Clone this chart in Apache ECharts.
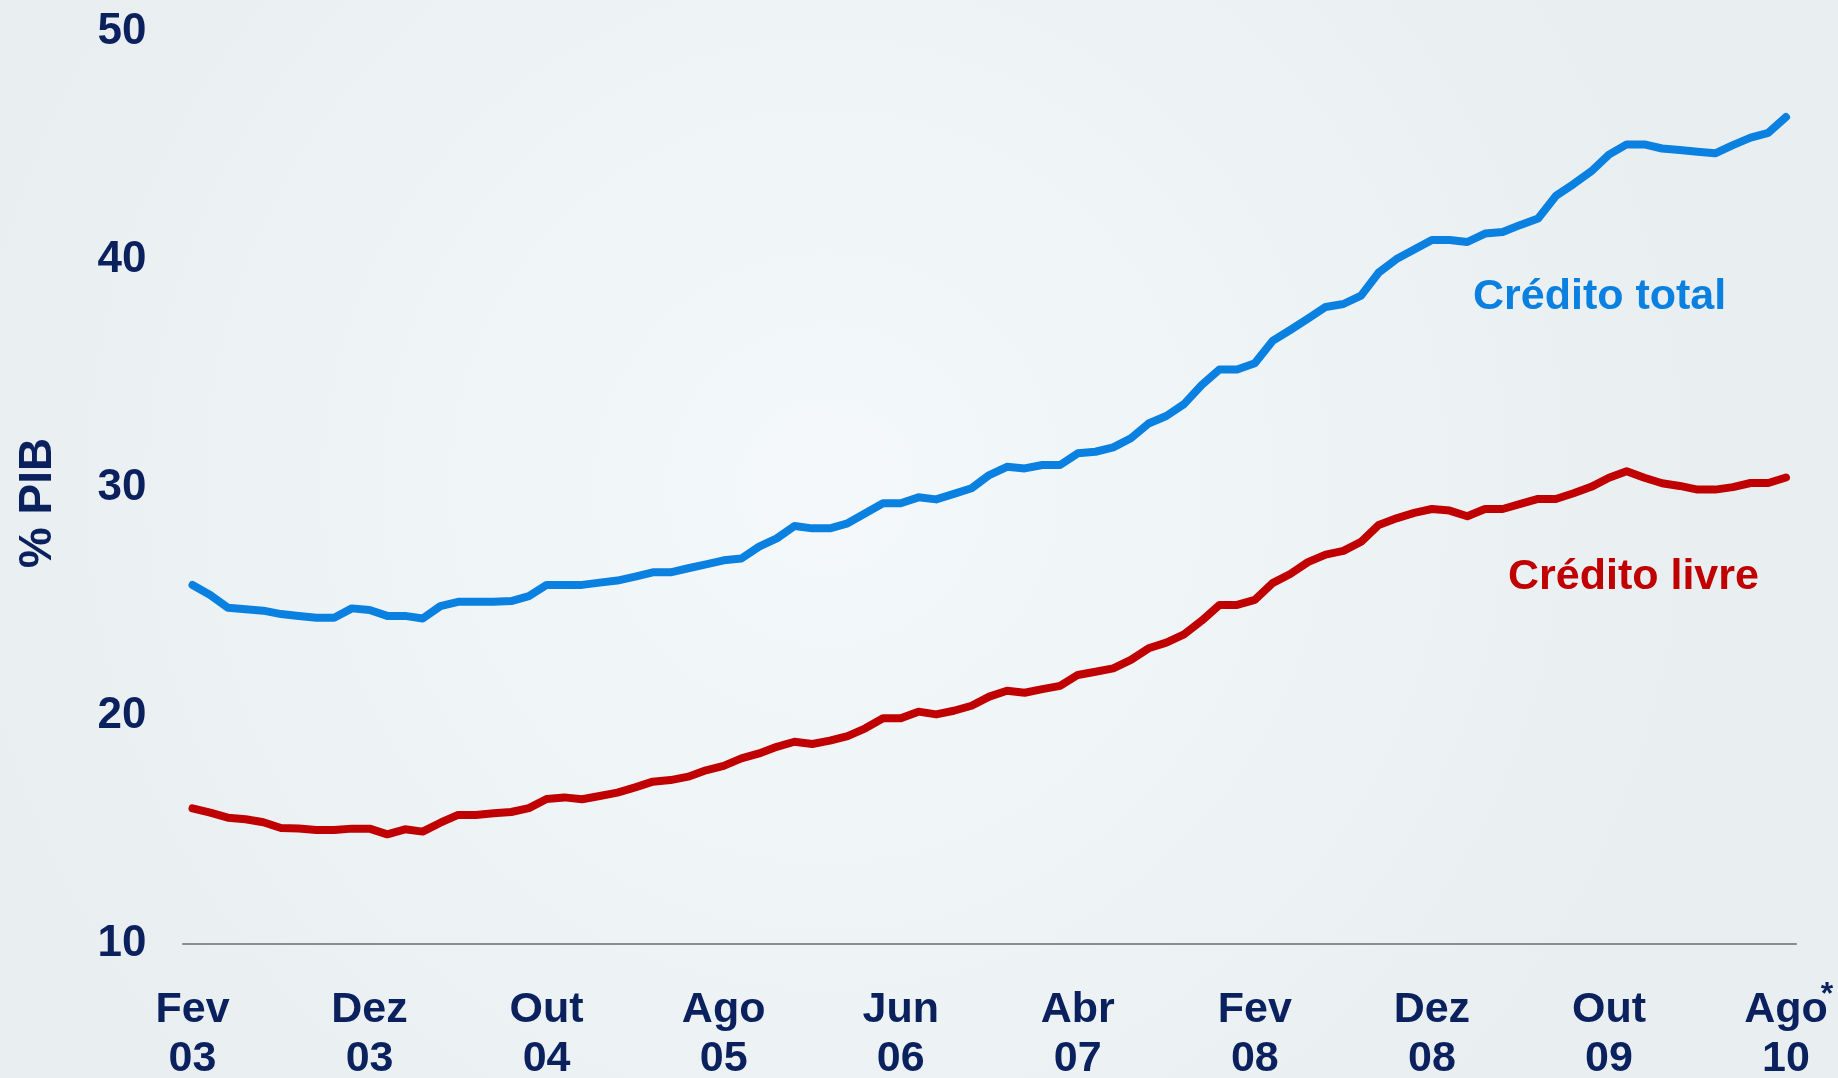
<!DOCTYPE html>
<html>
<head>
<meta charset="utf-8">
<title>Crédito total e livre (% PIB)</title>
<script src="https://cdn.jsdelivr.net/npm/echarts@6/dist/echarts.min.js"></script>
<style>
  html, body { margin: 0; padding: 0; background: #f0f4f6; }
  #chart { width: 1838px; height: 1078px; }
</style>
</head>
<body>
<div id="chart"></div>
<script>
// meses de Fev/03 a Ago/10 (91 pontos mensais)
const monthNames = ["Jan", "Fev", "Mar", "Abr", "Mai", "Jun", "Jul", "Ago", "Set", "Out", "Nov", "Dez"];
const months = [];
for (let i = 0; i < 91; i++) {
  const m = (1 + i) % 12;
  const y = 3 + Math.floor((1 + i) / 12);
  months.push(monthNames[m] + "\n" + String(y).padStart(2, "0"));
}

const yTicks = [10, 20, 30, 40, 50];

// Crédito total (% PIB)
const creditoTotal = [
  25.75, 25.31, 24.75, 24.68, 24.62, 24.47, 24.39, 24.31, 24.31, 24.72,
  24.65, 24.39, 24.39, 24.28, 24.82, 25.01, 25.01, 25.01, 25.04, 25.26,
  25.75, 25.75, 25.75, 25.85, 25.94, 26.11, 26.30, 26.30, 26.48, 26.65,
  26.83, 26.91, 27.43, 27.79, 28.33, 28.23, 28.23, 28.45, 28.89, 29.33,
  29.33, 29.59, 29.50, 29.74, 29.99, 30.57, 30.93, 30.86, 31.01, 31.01,
  31.52, 31.59, 31.78, 32.18, 32.83, 33.16, 33.68, 34.52, 35.20, 35.20,
  35.47, 36.45, 36.93, 37.43, 37.94, 38.07, 38.44, 39.45, 40.04, 40.46,
  40.88, 40.88, 40.79, 41.16, 41.23, 41.54, 41.82, 42.81, 43.33, 43.89,
  44.62, 45.07, 45.07, 44.89, 44.82, 44.75, 44.68, 45.04, 45.37, 45.58,
  46.27
];

// Crédito livre (% PIB)
const creditoLivre = [
  15.95, 15.76, 15.54, 15.47, 15.34, 15.09, 15.07, 15.00, 15.00, 15.06,
  15.06, 14.81, 15.03, 14.93, 15.32, 15.66, 15.66, 15.73, 15.79, 15.96,
  16.36, 16.43, 16.35, 16.49, 16.64, 16.87, 17.12, 17.19, 17.34, 17.62,
  17.81, 18.14, 18.36, 18.65, 18.87, 18.77, 18.92, 19.12, 19.46, 19.90,
  19.90, 20.19, 20.07, 20.23, 20.45, 20.85, 21.11, 21.02, 21.18, 21.32,
  21.80, 21.94, 22.09, 22.46, 22.97, 23.22, 23.58, 24.18, 24.87, 24.87,
  25.09, 25.83, 26.23, 26.75, 27.08, 27.24, 27.64, 28.38, 28.67, 28.91,
  29.08, 29.01, 28.76, 29.08, 29.08, 29.30, 29.52, 29.52, 29.77, 30.05,
  30.45, 30.73, 30.45, 30.21, 30.09, 29.93, 29.93, 30.04, 30.22, 30.22,
  30.46
];

const NAVY = "#0b215e";
const BLUE = "#0a80e0";
const RED = "#c00000";
const FONT = "Liberation Sans, Arial, sans-serif";

const chart = echarts.init(document.getElementById("chart"), null, { renderer: "canvas" });

chart.setOption({
  animation: false,
  backgroundColor: {
    type: "radial", x: 0.45, y: 0.45, r: 0.8,
    colorStops: [
      { offset: 0, color: "#f4f8fa" },
      { offset: 1, color: "#e9eff1" }
    ]
  },
  grid: [
    { left: 192.5, right: 52, top: 32, bottom: 134, outerBoundsMode: "none" },
    // grade só para a linha de base (mais larga que a série)
    { left: 183, right: 42, top: 32, bottom: 134, outerBoundsMode: "none" }
  ],
  xAxis: [
    {
      type: "category",
      gridIndex: 0,
      data: months,
      boundaryGap: false,
      axisLine: { show: false },
      axisTick: { show: false },
      splitLine: { show: false },
      axisLabel: {
        interval: 9,
        margin: 42,
        color: NAVY,
        fontFamily: FONT,
        fontWeight: "bold",
        fontSize: 43,
        lineHeight: 49,
        align: "center"
      }
    },
    {
      type: "value",
      gridIndex: 1,
      min: 0,
      max: 1,
      axisLine: { show: true, onZero: false, lineStyle: { color: "#8c8c8c", width: 2 } },
      axisTick: { show: false },
      axisLabel: { show: false },
      splitLine: { show: false }
    }
  ],
  yAxis: [
    {
      type: "value",
      gridIndex: 0,
      min: yTicks[0],
      max: yTicks[yTicks.length - 1],
      interval: 10,
      axisLine: { show: false },
      axisTick: { show: false },
      splitLine: { show: false },
      axisLabel: {
        margin: 46,
        padding: [7, 0, 0, 0],
        color: NAVY,
        fontFamily: FONT,
        fontWeight: "bold",
        fontSize: 44
      }
    },
    { type: "value", gridIndex: 1, min: 0, max: 1, show: false }
  ],
  series: [
    {
      name: "Crédito total",
      type: "line",
      data: creditoTotal,
      showSymbol: false,
      symbol: "none",
      lineStyle: { color: BLUE, width: 8, cap: "round", join: "round" }
    },
    {
      name: "Crédito livre",
      type: "line",
      data: creditoLivre,
      showSymbol: false,
      symbol: "none",
      lineStyle: { color: RED, width: 8, cap: "round", join: "round" }
    }
  ],
  graphic: [
    {
      type: "text", x: 38, y: 503, rotation: Math.PI / 2,
      style: { text: "% PIB", fill: NAVY, font: "bold 46px " + FONT, align: "center", verticalAlign: "middle" }
    },
    {
      type: "text", x: 1473, y: 297,
      style: { text: "Crédito total", fill: BLUE, font: "bold 43px " + FONT, align: "left", verticalAlign: "middle" }
    },
    {
      type: "text", x: 1508, y: 577,
      style: { text: "Crédito livre", fill: RED, font: "bold 43px " + FONT, align: "left", verticalAlign: "middle" }
    },
    {
      type: "text", x: 1827, y: 995,
      style: { text: "*", fill: NAVY, font: "bold 32px " + FONT, align: "center", verticalAlign: "middle" }
    }
  ]
});
</script>
</body>
</html>
